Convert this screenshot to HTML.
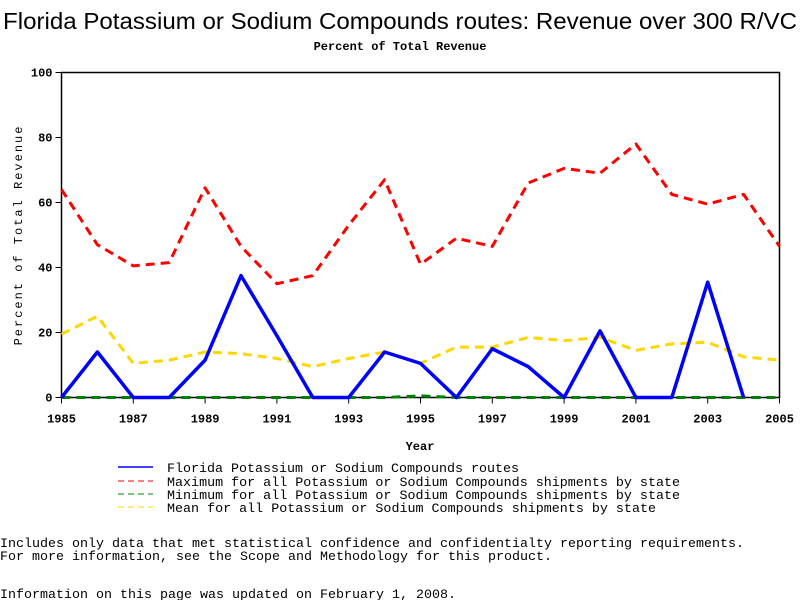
<!DOCTYPE html>
<html><head><meta charset="utf-8"><style>
body{margin:0;background:#fff;}
svg text{font-family:"Liberation Mono",monospace;}
</style></head><body>
<svg width="800" height="600" xmlns="http://www.w3.org/2000/svg">
<text x="3" y="29" textLength="794" lengthAdjust="spacingAndGlyphs" style="font-family:'Liberation Sans',sans-serif;font-size:23px">Florida Potassium or Sodium Compounds routes: Revenue over 300 R/VC</text>
<text x="400" y="50" text-anchor="middle" style="font-size:12px;font-weight:bold">Percent of Total Revenue</text>
<g id="plot"></g>
<text x="420" y="450" text-anchor="middle" style="font-size:12px;font-weight:bold">Year</text>
<text transform="translate(22,235) rotate(-90)" text-anchor="middle" style="font-size:12px;letter-spacing:2px">Percent of Total Revenue</text>
<g style="font-size:13px">
<line x1="118" y1="467" x2="153" y2="467" stroke="#0000ff" stroke-width="1.5"/>
<text x="167" y="472" textLength="352" lengthAdjust="spacingAndGlyphs">Florida Potassium or Sodium Compounds routes</text>
<line x1="118" y1="481" x2="153" y2="481" stroke="#ff0000" stroke-dasharray="6,4"/>
<text x="167" y="486" textLength="513" lengthAdjust="spacingAndGlyphs">Maximum for all Potassium or Sodium Compounds shipments by state</text>
<line x1="118" y1="494" x2="153" y2="494" stroke="#008000" stroke-dasharray="6,4"/>
<text x="167" y="499" textLength="513" lengthAdjust="spacingAndGlyphs">Minimum for all Potassium or Sodium Compounds shipments by state</text>
<line x1="118" y1="507" x2="153" y2="507" stroke="#ffd700" stroke-dasharray="6,4"/>
<text x="167" y="512" textLength="489" lengthAdjust="spacingAndGlyphs">Mean for all Potassium or Sodium Compounds shipments by state</text>
</g>
<g style="font-size:13px">
<text x="0" y="547" textLength="744" lengthAdjust="spacingAndGlyphs">Includes only data that met statistical confidence and confidentialty reporting requirements.</text>
<text x="0" y="560" textLength="552" lengthAdjust="spacingAndGlyphs">For more information, see the Scope and Methodology for this product.</text>
<text x="0" y="598" textLength="456" lengthAdjust="spacingAndGlyphs">Information on this page was updated on February 1, 2008.</text>
</g>
</svg>
<script>
const years=[1985,1986,1987,1988,1989,1990,1991,1992,1993,1994,1995,1996,1997,1998,1999,2000,2001,2002,2003,2004,2005];
const maxVals=[64,47,40.5,41.5,64.5,46.5,35,37.5,53,67,41,49,46.5,66,70.5,69,78,62.5,59.5,62.5,46.5];
const meanVals=[19.5,25,10.5,11.5,14,13.5,12,9.5,12,14,10.5,15.5,15.5,18.5,17.5,18.5,14.5,16.5,17,12.5,11.5];
const minVals=[0,0,0,0,0,0,0,0,0,0,0.5,0,0,0,0,0,0,0,0,0,0];
const flVals=[0,14,0,0,11.5,37.5,19,0,0,14,10.5,0,15,9.5,0,20.5,0,0,35.5,0,null];
const yTicks=[0,20,40,60,80,100];
const xTicks=[1985,1987,1989,1991,1993,1995,1997,1999,2001,2003,2005];
const X0=61.5,X1=779.5,Y0=397.5,Y1=72.5;
const xs=v=>X0+(v-1985)/20*(X1-X0);
const ys=v=>Y0-v/100*(Y0-Y1);
const NS="http://www.w3.org/2000/svg";
const g=document.getElementById('plot');
function mk(t,a){const e=document.createElementNS(NS,t);for(const k in a)e.setAttribute(k,a[k]);g.appendChild(e);return e;}
const frame=mk('rect',{x:X0,y:Y1,width:X1-X0,height:Y0-Y1,fill:'none',stroke:'#000','stroke-width':1.5});


yTicks.forEach(v=>{
 mk('line',{x1:X0-6,x2:X0,y1:ys(v),y2:ys(v),stroke:'#000'});
 const t=mk('text',{x:X0-9,y:ys(v)+4,'text-anchor':'end','font-size':12,'font-weight':'bold'});t.textContent=v;
 
 
});
xTicks.forEach(v=>{
 mk('line',{x1:xs(v),x2:xs(v),y1:Y0,y2:Y0+6,stroke:'#000'});
 const t=mk('text',{x:xs(v),y:Y0+25,'text-anchor':'middle','font-size':12,'font-weight':'bold'});t.textContent=v;
 
 
});
function series(vals,color,w,dash,name){
 let d='',pen=false;
 vals.forEach((v,i)=>{if(v===null){pen=false;return;}d+=(pen?'L':'M')+xs(years[i])+' '+ys(v)+' ';pen=true;});
 const p=mk('path',{d:d,fill:'none',stroke:color,'stroke-width':w,'stroke-dasharray':dash||'none','stroke-linejoin':'round'});
 
 
}
series(minVals,'#008000',3,'9,6','series-minimum');
series(meanVals,'#ffd700',3,'9,6','series-mean');
series(maxVals,'#ff0000',3,'9,6','series-maximum');
series(flVals,'#0000ff',3.5,null,'series-florida');
</script>
</body></html>
